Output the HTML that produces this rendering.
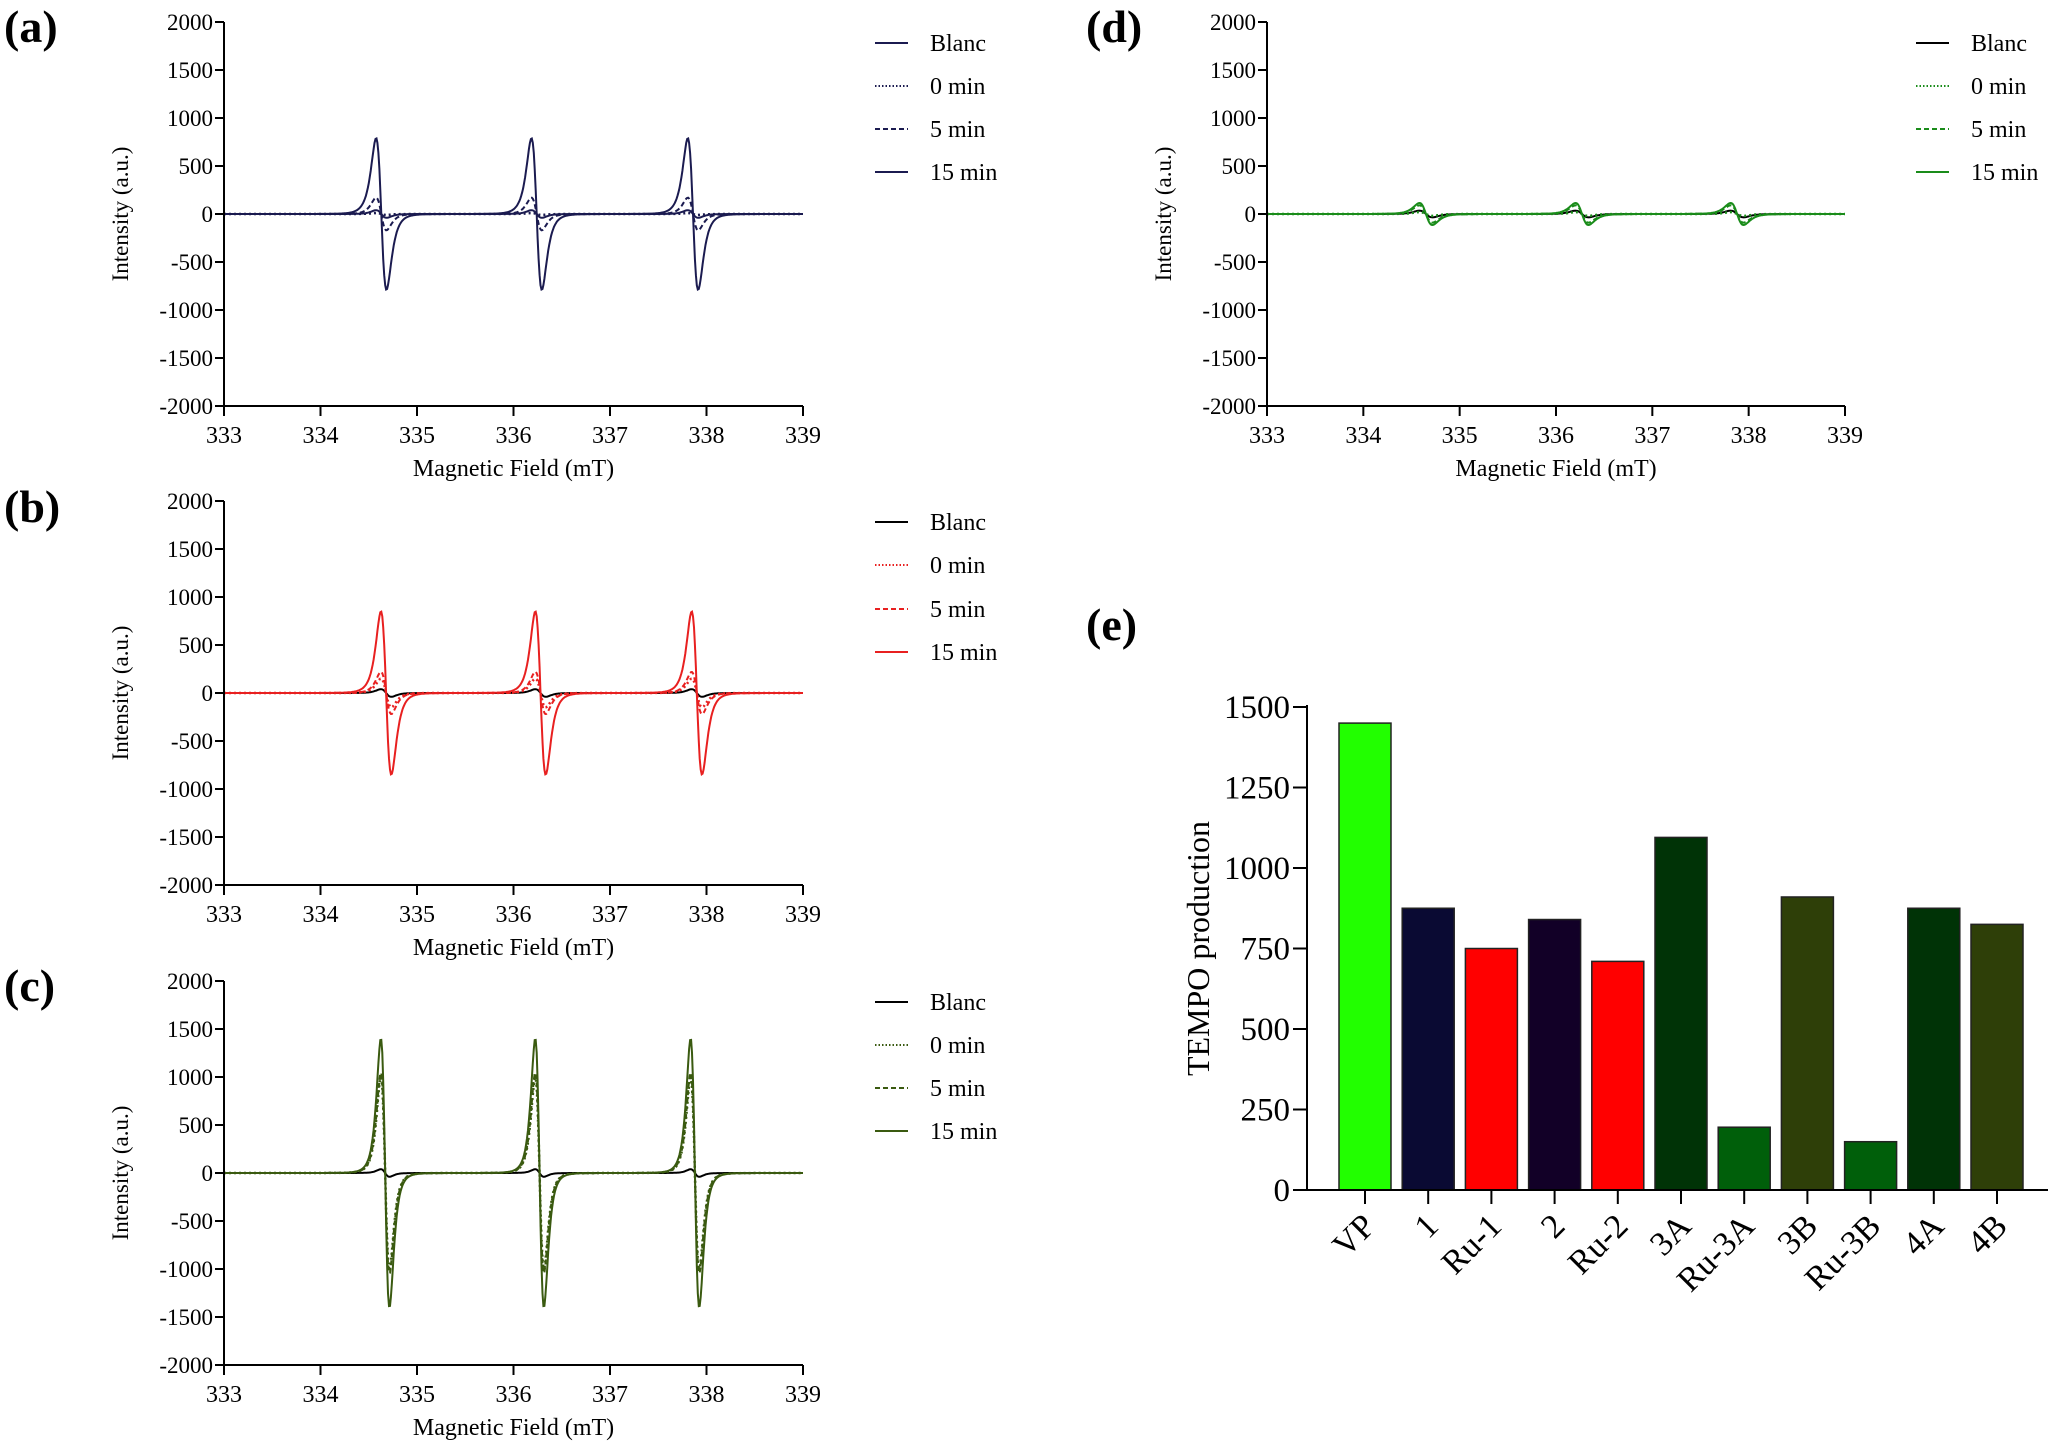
<!DOCTYPE html>
<html><head><meta charset="utf-8"><style>
html,body{margin:0;padding:0;background:#fff;}
svg{display:block;font-family:"Liberation Serif","Times New Roman",serif;}
</style></head><body>
<svg id="fig" width="2048" height="1449" viewBox="0 0 2048 1449" xmlns="http://www.w3.org/2000/svg">
<text x="4" y="42" font-size="46" font-weight="bold">(a)</text>
<text x="4" y="522" font-size="46" font-weight="bold">(b)</text>
<text x="4" y="1001" font-size="46" font-weight="bold">(c)</text>
<text x="1086" y="42" font-size="46" font-weight="bold">(d)</text>
<text x="1086" y="640" font-size="46" font-weight="bold">(e)</text>
</svg>
<script>
const NS="http://www.w3.org/2000/svg";
const svg=document.getElementById('fig');
function mk(tag,attrs,parent){const e=document.createElementNS(NS,tag);for(const k in attrs)e.setAttribute(k,attrs[k]);(parent||svg).appendChild(e);return e;}

// ---- EPR data (peak parameters) ----
const seriesNames=["Blanc","0 min","5 min","15 min"];
const xTicks=[333,334,335,336,337,338,339];
const yTicks=[2000,1500,1000,500,0,-500,-1000,-1500,-2000];
const centersA=[334.63,336.24,337.86];
const centersB=[334.68,336.28,337.9];
const centersC=[334.67,336.27,337.88];
const centersD=[334.65,336.27,337.88];
const ampsA=[40,10,170,790];
const ampsB=[40,150,220,850];
const ampsC=[40,1000,1050,1400];
const ampsD=[35,20,90,115];
const widthA=0.12, widthB=0.12, widthC=0.10, widthD=0.15;

const panels=[
 {id:'a',x0:224,x1:803,y0:22,y1:406,centers:centersA,amps:ampsA,w:widthA,colors:['#1b1b50','#1b1b50','#1b1b50','#1b1b50'],ly:[43,86,129,172],lx:875},
 {id:'b',x0:224,x1:803,y0:501,y1:885,centers:centersB,amps:ampsB,w:widthB,colors:['#000','#e82020','#e82020','#e82020'],ly:[522,565,609,652],lx:875},
 {id:'c',x0:224,x1:803,y0:981,y1:1365,centers:centersC,amps:ampsC,w:widthC,colors:['#000','#3a5a10','#3a5a10','#3a5a10'],ly:[1002,1045,1088,1131],lx:875},
 {id:'d',x0:1267,x1:1845,y0:22,y1:406,centers:centersD,amps:ampsD,w:widthD,colors:['#000','#1a8c1a','#1a8c1a','#1a8c1a'],ly:[43,86,129,172],lx:1916}
];
const dashes=['none','2,3','5,3','none'];

// derivative lineshape, peak-normalised; squared-Lorentzian gives faster-decaying tails
function derivShape(x,c,w,A){const u=(x-c)/w;return -A*(4*u/Math.pow(1+u*u,3))/1.0;}
const shapeNorm=(function(){let m=0;for(let u=0;u<3;u+=0.001){const v=4*u/Math.pow(1+u*u,3);if(v>m)m=v;}return m;})();

panels.forEach(p=>{
 const g=mk('g',{});
 
 
 const sx=v=>p.x0+(v-333)/(339-333)*(p.x1-p.x0);
 const sy=v=>p.y0+(2000-v)/4000*(p.y1-p.y0);
 for(let s=0;s<4;s++){
  let d='';
  for(let i=0;i<=600;i++){const x=333+i*0.01;let y=0;p.centers.forEach(c=>{y+=derivShape(x,c,p.w,p.amps[s])/shapeNorm;});d+=(i?'L':'M')+sx(x).toFixed(1)+','+sy(y).toFixed(1);}
  const path=mk('path',{d:d,fill:'none',stroke:p.colors[s],'stroke-width':s===1?2.5:2,'stroke-dasharray':dashes[s]},g);
  
  
 }
 const ya=mk('line',{x1:p.x0,x2:p.x0,y1:p.y0,y2:p.y1,stroke:'#000','stroke-width':2},g);
 
 const xa=mk('line',{x1:p.x0,x2:p.x1,y1:p.y1,y2:p.y1,stroke:'#000','stroke-width':2},g);
 
 yTicks.forEach(t=>{
  mk('line',{x1:p.x0-9,x2:p.x0,y1:sy(t),y2:sy(t),stroke:'#000','stroke-width':2},g);
  const tx=mk('text',{x:p.x0-11,y:sy(t)+8,'font-size':23,'text-anchor':'end'},g);tx.textContent=t;
  
 });
 xTicks.forEach(t=>{
  mk('line',{x1:sx(t),x2:sx(t),y1:p.y1,y2:p.y1+10,stroke:'#000','stroke-width':2},g);
  const tx=mk('text',{x:sx(t),y:p.y1+37,'font-size':24,'text-anchor':'middle'},g);tx.textContent=t;
  
 });
 const xt=mk('text',{x:(p.x0+p.x1)/2,y:p.y1+70,'font-size':24,'text-anchor':'middle'},g);xt.textContent='Magnetic Field (mT)';
 
 const yc=(p.y0+p.y1)/2;
 const yt=mk('text',{x:p.x0-96,y:yc,'font-size':23,'text-anchor':'middle',transform:'rotate(-90 '+(p.x0-96)+' '+yc+')'},g);yt.textContent='Intensity (a.u.)';
 
 for(let s=0;s<4;s++){
  const le=mk('g',{},g);
  
  mk('line',{x1:p.lx,x2:p.lx+33,y1:p.ly[s],y2:p.ly[s],stroke:p.colors[s],'stroke-width':2,'stroke-dasharray':dashes[s]==='2,3'?'1.5,2':dashes[s]},le);
  const lt=mk('text',{x:p.lx+55,y:p.ly[s]+8,'font-size':24},le);lt.textContent=seriesNames[s];
 }
});

// ---- Bar chart (e) ----
const barCats=["VP","1","Ru-1","2","Ru-2","3A","Ru-3A","3B","Ru-3B","4A","4B"];
const barVals=[1450,875,750,840,710,1095,195,910,150,875,825];
const barColors=["#22ff00","#0a0a33","#ff0000","#120027","#ff0000","#003306","#005f0a","#2e3f08","#005f0a","#003306","#2e3f08"];
const eTicks=[0,250,500,750,1000,1250,1500];
(function(){
 const g=mk('g',{});
 
 const X0=1307,X1=2048,Y0=1190,Y1=707;
 const sy=v=>Y0-(v/1500)*(Y0-Y1);
 const sx=i=>1365+i*63.2;
 barCats.forEach((c,i)=>{
  const r=mk('rect',{x:sx(i)-26,y:sy(barVals[i]),width:52,height:Y0-sy(barVals[i]),fill:barColors[i],stroke:'#222','stroke-width':1.5},g);
  
  mk('line',{x1:sx(i),x2:sx(i),y1:Y0,y2:Y0+14,stroke:'#000','stroke-width':2},g);
  const tx=mk('text',{x:sx(i)+12,y:Y0+38,'font-size':34,'text-anchor':'end',transform:'rotate(-45 '+(sx(i)+12)+' '+(Y0+38)+')'},g);tx.textContent=c;
  
 });
 const ya=mk('line',{x1:X0,x2:X0,y1:Y1-2,y2:Y0,stroke:'#000','stroke-width':2},g);
 
 const xa=mk('line',{x1:X0,x2:X1,y1:Y0,y2:Y0,stroke:'#000','stroke-width':2},g);
 
 eTicks.forEach(t=>{
  mk('line',{x1:X0-14,x2:X0,y1:sy(t),y2:sy(t),stroke:'#000','stroke-width':2},g);
  const tx=mk('text',{x:X0-17,y:sy(t)+11,'font-size':33,'text-anchor':'end'},g);tx.textContent=t;
  
 });
 const yt=mk('text',{x:1209,y:(Y0+Y1)/2,'font-size':32,'text-anchor':'middle',transform:'rotate(-90 1209 '+((Y0+Y1)/2)+')'},g);yt.textContent='TEMPO production';
 
})();
</script>
</body></html>
